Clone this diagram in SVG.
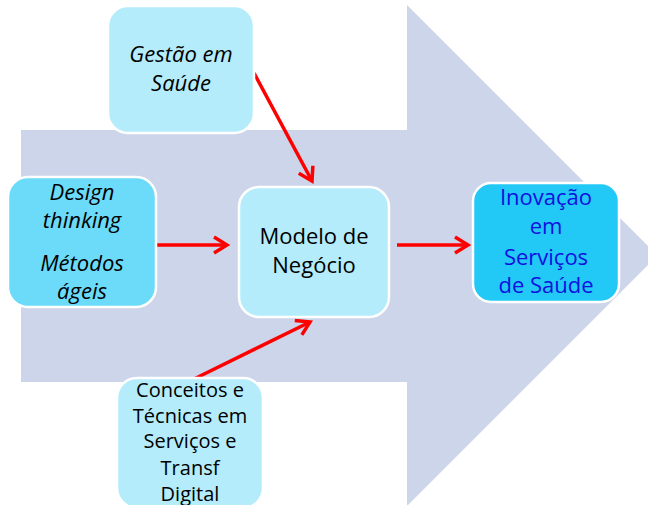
<svg xmlns="http://www.w3.org/2000/svg" width="648" height="505" viewBox="0 0 648 505">
<style>
.node{stroke:#ffffff;stroke-width:2.5}
.light{fill:#B4ECFB}
.mid{fill:#6BDBF9}
.dark{fill:#22C8F6}
text{font-family:"Open Sans","Noto Sans","Liberation Sans",sans-serif;font-size:22px;text-anchor:middle;fill:#000}
.it{font-style:italic}
.blue{fill:#1010E0}
.sm{font-size:20px}
.conn{stroke:#FF0000;stroke-width:3.5;fill:none;marker-end:url(#ah)}
</style>
<defs>
<marker id="ah" markerUnits="userSpaceOnUse" markerWidth="24" markerHeight="24" viewBox="-18 -12 24 24" refX="0" refY="0" orient="auto" overflow="visible">
<path d="M-13,-8 L0,0 L-13,8" fill="none" stroke="#FF0000" stroke-width="3.5" stroke-linejoin="miter"/>
</marker>
</defs>
<rect width="648" height="505" fill="#ffffff"/>
<g id="big-arrow">
<polygon points="21,130 407,130 407,5 657.5,255.5 407,506 407,382 21,382" fill="#CDD5EA"/>
</g>
<g id="connectors">
<line class="conn" x1="254" y1="73" x2="312" y2="181"/>
<line class="conn" x1="156" y1="245" x2="227" y2="245"/>
<line class="conn" x1="397" y1="245" x2="468" y2="245"/>
<line class="conn" x1="194" y1="379" x2="310" y2="322"/>
</g>
<g id="gestao">
<rect class="node light" x="108" y="6" width="146" height="127" rx="20"/>
<text class="it" x="181" y="62">Gestão em</text>
<text class="it" x="181" y="91">Saúde</text>
</g>
<g id="design">
<rect class="node mid" x="8" y="177" width="148" height="130" rx="20"/>
<text class="it" x="82" y="200">Design</text>
<text class="it" x="82" y="228">thinking</text>
<text class="it" x="82" y="271">Métodos</text>
<text class="it" x="82" y="299">ágeis</text>
</g>
<g id="modelo">
<rect class="node light" x="239" y="187" width="150" height="130" rx="20"/>
<text x="314" y="244">Modelo de</text>
<text x="314" y="273">Negócio</text>
</g>
<g id="inovacao">
<rect class="node dark" x="473" y="183" width="146" height="119" rx="18"/>
<text class="blue" x="546" y="205">Inovação</text>
<text class="blue" x="546" y="234">em</text>
<text class="blue" x="546" y="265">Serviços</text>
<text class="blue" x="546" y="293">de Saúde</text>
</g>
<g id="conceitos">
<rect class="node light" x="117" y="378" width="146" height="130" rx="20"/>
<text class="sm" x="190" y="397">Conceitos e</text>
<text class="sm" x="190" y="423">Técnicas em</text>
<text class="sm" x="190" y="448">Serviços e</text>
<text class="sm" x="190" y="475">Transf</text>
<text class="sm" x="190" y="501">Digital</text>
</g>
</svg>
